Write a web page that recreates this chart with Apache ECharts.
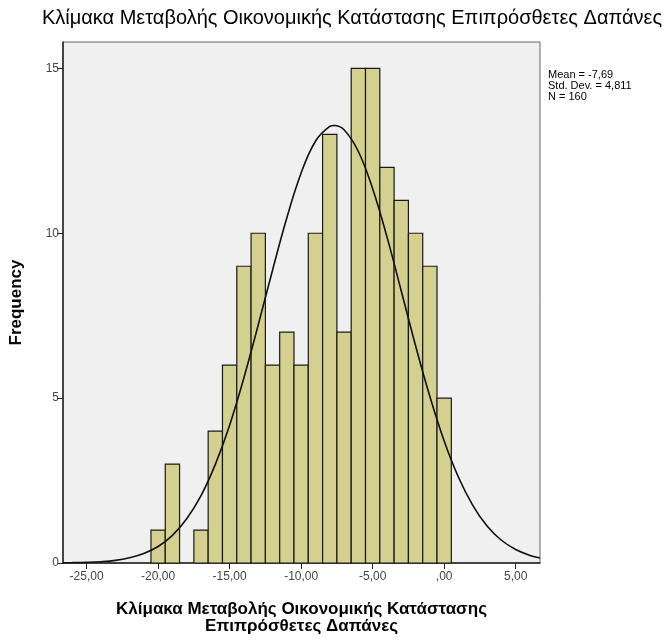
<!DOCTYPE html>
<html>
<head>
<meta charset="utf-8">
<script src="https://cdn.jsdelivr.net/npm/echarts@6/dist/echarts.min.js"></script>
<style>
  html, body { margin: 0; padding: 0; background: #fff; }
  #chart { width: 671px; height: 642px; }
</style>
</head>
<body>
<div id="chart"></div>
<script>
// histogram bins (centre of each 1-unit bin) and counts
const binCenters = [-20, -19, -18, -17, -16, -15, -14, -13, -12, -11, -10, -9, -8, -7, -6, -5, -4, -3, -2, -1, 0];
const counts = [1, 3, 0, 1, 4, 6, 9, 10, 6, 7, 6, 10, 13, 7, 15, 15, 12, 11, 10, 9, 5];

// normal curve
const curveX = [-26.65, -26, -25, -24, -23, -22, -21, -20, -19, -18, -17, -16, -15, -14, -13, -12, -11, -10, -9, -8, -7.69, -7, -6, -5, -4, -3, -2, -1, 0, 1, 2, 3, 4, 5, 6, 6.7];
const curveY = [0.006, 0.01, 0.02, 0.04, 0.08, 0.16, 0.29, 0.5, 0.84, 1.34, 2.04, 2.99, 4.18, 5.62, 7.22, 8.88, 10.47, 11.83, 12.79, 13.24, 13.27, 13.14, 12.48, 11.35, 9.89, 8.25, 6.59, 5.05, 3.7, 2.6, 1.75, 1.12, 0.69, 0.41, 0.23, 0.15];

const xTicks = [-25, -20, -15, -10, -5, 0, 5];
const yTicks = [0, 5, 10, 15];
const statsText = ['Mean = -7,69', 'Std. Dev. = 4,811', 'N = 160'];

const chart = echarts.init(document.getElementById('chart'));

chart.setOption({
  animation: false,
  backgroundColor: '#ffffff',
  textStyle: { fontFamily: 'Liberation Sans, Arial, sans-serif' },
  title: {
    text: 'Κλίμακα Μεταβολής Οικονομικής Κατάστασης Επιπρόσθετες Δαπάνες',
    left: 347,
    textAlign: 'center',
    top: 3,
    textStyle: { fontSize: 20, fontWeight: 'normal', color: '#000' }
  },
  grid: {
    left: 62, right: 131, top: 42, bottom: 79,
    show: true,
    backgroundColor: '#f0f0f0',
    borderColor: '#666',
    borderWidth: 1
  },
  xAxis: {
    type: 'value',
    min: -26.65,
    max: 6.7,
    splitLine: { show: false },
    axisLine: { onZero: false, lineStyle: { color: '#222', width: 1.5 } },
    axisTick: { show: true, length: 6, customValues: xTicks, lineStyle: { color: '#222' } },
    axisLabel: {
      customValues: xTicks,
      color: '#444',
      fontSize: 12,
      margin: 8,
      formatter: v => {
        const s = Math.abs(v).toFixed(2).replace('.', ',');
        const t = s.startsWith('0,') ? s.slice(1) : s;
        return (v < 0 ? '-' : '') + t;
      }
    },
    name: 'Κλίμακα Μεταβολής Οικονομικής Κατάστασης\nΕπιπρόσθετες Δαπάνες',
    nameLocation: 'middle',
    nameGap: 38,
    nameTextStyle: { fontSize: 17, fontWeight: 'bold', color: '#000', lineHeight: 17 }
  },
  yAxis: {
    type: 'value',
    min: 0,
    max: 15.8,
    splitLine: { show: false },
    axisLine: { show: true, onZero: false, lineStyle: { color: '#222', width: 1.5 } },
    axisTick: { show: true, length: 6, customValues: yTicks, lineStyle: { color: '#222' } },
    axisLabel: { customValues: yTicks, color: '#444', fontSize: 12, margin: 4 },
    name: 'Frequency',
    nameLocation: 'middle',
    nameGap: 38,
    nameTextStyle: { fontSize: 17, fontWeight: 'bold', color: '#000' }
  },
  series: [
    {
      type: 'custom',
      data: binCenters.map((c, i) => [c, counts[i]]),
      renderItem: (params, api) => {
        const c = api.value(0);
        const n = api.value(1);
        if (!n) return null;
        const p0 = api.coord([c - 0.5, n]);
        const p1 = api.coord([c + 0.5, 0]);
        return {
          type: 'rect',
          shape: { x: p0[0], y: p0[1], width: p1[0] - p0[0], height: p1[1] - p0[1] },
          style: { fill: '#d4d08f', stroke: '#1a1a1a', lineWidth: 1.2 }
        };
      },
      z: 2
    },
    {
      type: 'line',
      data: curveX.map((x, i) => [x, curveY[i]]),
      smooth: 0.4,
      showSymbol: false,
      lineStyle: { color: '#111', width: 1.6 },
      z: 3
    }
  ],
  graphic: [
    {
      type: 'text',
      left: 548,
      top: 69,
      style: {
        text: statsText.join('\n'),
        font: '11px "Liberation Sans Narrow", "Liberation Sans", Arial, sans-serif',
        lineHeight: 11,
        fill: '#000'
      }
    }
  ]
});
</script>
</body>
</html>
